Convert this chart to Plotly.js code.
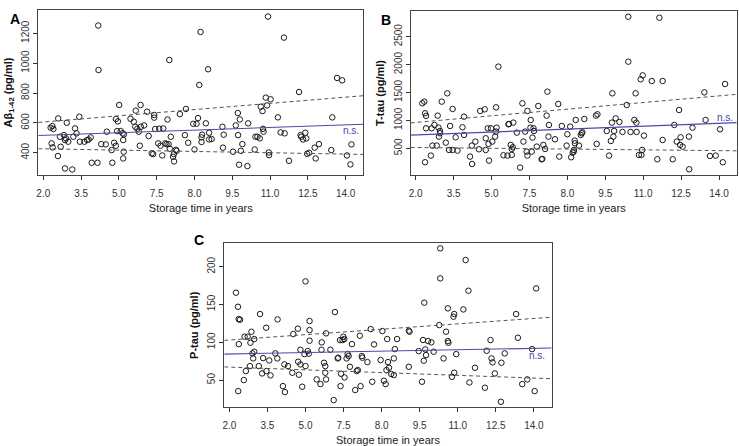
<!DOCTYPE html>
<html>
<head>
<meta charset="utf-8">
<script src="https://cdn.plot.ly/plotly-3.0.1.min.js"></script>
<style>
  html, body { margin: 0; padding: 0; background: #fff; }
  #chart { width: 739px; height: 446px; }
</style>
</head>
<body>
<div id="chart"></div>
<script>
// tick labels as printed on the figure (evenly spaced)
const xTickVals = [2, 3.5, 5, 6.5, 8, 9.5, 11, 12.5, 14];
const xTickText = ["2.0", "3.5", "5.0", "7.5", "8.0", "9.5", "11.0", "12.5", "14.0"];

// panel A: Abeta 1-42
const aX = [2.59,2.29,2.36,2.40,2.93,3.43,2.33,2.37,2.58,2.69,2.66,2.82,2.86,2.90,2.99,3.19,3.26,3.32,2.86,3.15,
  3.45,3.63,3.74,3.80,3.88,3.92,4.15,4.18,4.19,4.30,4.48,4.52,4.71,4.74,4.81,4.88,4.88,4.96,4.93,5.01,
  5.07,5.15,5.20,5.17,5.19,5.17,5.46,5.59,5.65,5.67,5.73,5.79,5.86,5.87,5.83,6.00,6.12,6.18,6.40,6.40,
  6.44,6.36,6.30,6.56,6.60,6.65,6.72,6.76,6.84,6.89,6.97,7.02,7.00,7.06,7.15,7.18,7.19,7.26,7.29,6.93,
  7.42,7.66,7.62,7.75,8.00,7.95,8.08,8.14,8.24,8.19,8.30,8.28,8.28,8.45,8.54,8.58,8.58,8.68,9.11,9.16,
  9.13,9.53,9.64,9.72,9.80,9.73,9.77,9.84,9.90,10.13,10.10,10.39,10.42,10.50,10.59,10.63,10.70,10.72,10.74,10.83,
  10.88,10.92,10.95,10.96,11.02,11.31,11.42,11.55,11.58,11.75,12.15,12.21,12.24,12.31,12.40,12.44,12.47,12.55,12.77,12.81,
  12.94,13.43,13.47,13.66,13.86,14.05,14.19,14.23];
const aY = [630,568,579,559,601,641,463,436,378,440,507,518,485,496,474,507,563,530,295,288,
  474,474,485,489,503,333,333,1252,954,458,456,541,418,333,467,447,626,610,545,720,
  545,530,523,485,407,362,628,608,574,682,561,541,720,574,447,583,675,512,653,635,
  559,391,396,463,561,447,382,563,463,458,458,427,1021,507,373,391,342,420,413,623,
  659,693,518,467,422,594,594,632,1209,854,521,503,472,597,959,534,489,492,574,521,
  434,407,583,666,623,518,320,413,458,597,311,422,507,507,496,708,679,560,541,769,
  717,1312,402,384,758,637,536,1171,530,346,807,518,507,489,534,496,393,400,434,362,
  458,418,637,901,885,382,322,456];

// panel B: T-tau
const bX = [2.26,2.34,2.37,2.41,2.41,2.37,2.60,2.63,2.66,2.74,2.83,2.87,2.90,2.92,2.96,2.96,3.03,3.19,3.25,3.32,
  3.36,3.46,3.46,3.58,3.65,3.85,3.91,3.91,4.15,4.22,4.23,4.36,4.50,4.55,4.73,4.77,4.77,4.85,4.88,4.90,
  4.98,5.03,5.14,5.18,5.18,5.20,5.27,5.47,5.63,5.67,5.69,5.76,5.80,5.80,5.84,5.86,6.00,6.13,6.22,6.26,
  6.33,6.42,6.39,6.42,6.54,6.55,6.59,6.62,6.66,6.68,6.79,6.85,6.98,7.01,7.05,7.12,7.18,7.21,7.27,7.25,
  7.51,7.64,7.68,7.78,7.97,8.00,8.11,8.15,8.21,8.25,8.26,8.29,8.33,8.30,8.46,8.53,8.57,8.59,8.67,9.13,
  9.19,9.16,9.56,9.65,9.72,9.76,9.78,9.82,9.85,9.91,10.06,10.18,10.35,10.41,10.41,10.50,10.65,10.70,10.73,10.74,
  10.83,10.90,10.93,10.96,10.98,11.03,11.34,11.56,11.64,11.77,11.77,12.17,12.23,12.33,12.42,12.46,12.48,12.56,12.81,12.82,
  12.95,13.42,13.47,13.64,13.87,14.04,14.15,14.24];
const bY = [1306,1336,1127,1080,858,250,369,858,548,918,548,1085,870,709,769,810,1336,601,1485,470,
  900,470,1204,697,458,876,1067,739,351,548,219,620,482,1169,1198,679,470,858,578,279,
  858,620,709,799,1234,870,1963,375,369,930,936,560,488,381,518,960,781,154,1306,620,
  799,1169,440,369,870,1007,440,691,858,810,530,1258,303,309,560,488,1085,1515,918,709,
  661,1294,351,900,548,751,888,339,422,440,470,637,1007,590,548,739,769,787,1025,1085,
  1109,578,810,369,631,960,1485,709,810,1037,972,793,1276,2858,2052,793,1007,1485,960,793,
  381,1736,381,470,1807,727,1706,303,2840,1706,649,303,918,620,1186,560,697,530,709,124,
  870,1502,1007,363,369,840,250,1652];

// panel C: P-tau
const cX = [2.26,2.34,2.37,2.42,2.37,2.35,2.57,2.65,2.60,2.72,2.83,2.87,2.91,2.94,2.98,2.98,2.81,3.16,3.21,3.29,
  3.33,3.45,3.46,3.57,3.62,3.81,3.89,3.90,4.11,4.19,4.17,4.31,4.48,4.52,4.70,4.74,4.71,4.80,4.87,4.80,
  4.96,5.00,5.00,5.09,5.13,5.16,5.16,5.16,5.44,5.59,5.63,5.64,5.73,5.78,5.78,5.81,5.81,5.98,6.11,6.16,
  6.27,6.29,6.36,6.38,6.40,6.46,6.49,6.53,6.54,6.66,6.62,6.70,6.75,6.83,6.96,7.02,7.06,7.17,7.14,7.22,
  7.24,7.44,7.63,7.57,7.70,7.96,8.03,8.09,8.16,8.22,8.25,8.29,8.19,8.52,8.61,8.48,8.38,8.48,9.07,9.10,
  9.07,9.46,9.63,9.66,9.72,9.75,9.83,9.96,10.05,9.59,9.68,10.27,10.31,10.31,10.44,10.54,10.61,10.63,10.61,10.77,
  10.83,10.86,10.86,10.94,11.22,11.31,11.42,11.46,11.68,12.07,12.14,12.29,12.33,12.37,12.46,12.72,12.70,12.85,13.30,13.37,
  13.54,13.74,13.93,14.03,14.09];
const cY = [165.6,147,130.7,129.9,97.6,35.4,50,61.9,107.4,107.4,99.4,114,85.3,78.7,104.3,87.5,68.5,68.5,137.4,58.8,
  79.1,119.3,61.9,76,56.2,85.3,78.7,130.3,42,34.1,70.7,68.5,59.7,110.9,118,57.1,74.3,70.7,41.2,90.1,
  84.4,68.5,180.6,88.4,84.9,102.1,116.2,128.1,50.9,44.7,90.1,99.9,72.9,68.5,59.7,50.9,111.8,90.1,23.5,140,
  78.7,79.6,102.9,42,58.4,102.9,107.4,104.3,53.5,84.4,78.7,81.8,67.6,97.6,36.8,61.9,63.2,42,108.7,81.8,
  79.6,73.8,47.8,117.5,97.2,76.5,114.9,49.1,44.7,104.3,73.8,66.3,63.2,91,104.3,78.7,58,56.6,115.3,114,
  67.6,88.4,103,75.6,90.6,83.1,101.6,99.9,87.5,47.8,152.4,122.8,184.6,224.3,78.7,114,101.6,99.4,144.9,54.4,
  133.8,137.4,59.7,84.4,143.5,208.8,168.2,46.9,66.3,39.9,88.8,102.9,78.7,73.4,58.8,72.9,21.3,85.3,137.4,106,
  44.7,50.9,91,35.4,171.3];

// fitted line and dashed bounds, read at the plot edges
const lineX = [1.8, 14.7];
const aFit = [516, 591];
const aUpper = [603, 782];
const aLower = [427, 389];
const bFit = [735, 960];
const bUpper = [955, 1467];
const bLower = [515, 455];
const cFit = [84.4, 92.4];
const cUpper = [102.5, 133.2];
const cLower = [67.4, 51.8];

const nsA = [14.2, 548];
const nsB = [14.22, 1050];
const nsC = [14.12, 82];

const panels = [
  { xs: aX, ys: aY, fit: aFit, up: aUpper, lo: aLower, ns: nsA, ax: "" },
  { xs: bX, ys: bY, fit: bFit, up: bUpper, lo: bLower, ns: nsB, ax: "2" },
  { xs: cX, ys: cY, fit: cFit, up: cUpper, lo: cLower, ns: nsC, ax: "3" }
];

const traces = [];
const annotations = [];

panels.forEach(p => {
  const xa = "x" + p.ax;
  const ya = "y" + p.ax;

  traces.push({
    x: p.xs, y: p.ys,
    xaxis: xa, yaxis: ya,
    type: "scatter", mode: "markers",
    marker: { symbol: "circle-open", size: 5.5, color: "#1a1a1a", line: { width: 1 } },
    hoverinfo: "skip"
  });

  [p.up, p.lo].forEach(b => {
    traces.push({
      x: lineX, y: b,
      xaxis: xa, yaxis: ya,
      type: "scatter", mode: "lines",
      line: { color: "#555", width: 1, dash: "4px,3px" },
      hoverinfo: "skip"
    });
  });

  traces.push({
    x: lineX, y: p.fit,
    xaxis: xa, yaxis: ya,
    type: "scatter", mode: "lines",
    line: { color: "#4a4aa6", width: 1.1 },
    hoverinfo: "skip"
  });

  annotations.push({
    x: p.ns[0], y: p.ns[1], xref: xa, yref: ya,
    text: "n.s.", showarrow: false,
    font: { family: "Liberation Sans, Arial", size: 10, color: "#4545a8" }
  });
});

const letters = [["A", 0.011, 0.979], ["B", 0.522, 0.977], ["C", 0.26, 0.462]];
letters.forEach(l => {
  annotations.push({
    x: l[1], y: l[2], xref: "paper", yref: "paper",
    text: "<b>" + l[0] + "</b>", showarrow: false,
    font: { family: "Liberation Sans, Arial", size: 14, color: "#000" }
  });
});

function xAxis(domain, anchor) {
  return {
    domain, anchor,
    range: [1.8, 14.7],
    tickvals: xTickVals, ticktext: xTickText,
    ticks: "outside", ticklen: 4, tickcolor: "#333",
    ticklabelstandoff: 5,
    showline: true, mirror: true, linecolor: "#444", linewidth: 1,
    showgrid: false, zeroline: false,
    tickfont: { family: "Liberation Sans, Arial", size: 10, color: "#333" },
    title: { text: "Storage time in years", standoff: 6,
             font: { family: "Liberation Sans, Arial", size: 11, color: "#222" } }
  };
}

function yAxis(domain, anchor, range, tickvals, label) {
  return {
    domain, anchor, range, tickvals,
    ticks: "outside", ticklen: 4, tickcolor: "#333",
    tickangle: -90,
    showline: true, mirror: true, linecolor: "#444", linewidth: 1,
    showgrid: false, zeroline: false,
    tickfont: { family: "Liberation Sans, Arial", size: 10, color: "#333" },
    title: { text: label, standoff: 5,
             font: { family: "Liberation Sans, Arial", size: 11, color: "#111" } }
  };
}

const layout = {
  width: 739, height: 446,
  margin: { l: 0, r: 0, t: 0, b: 0 },
  paper_bgcolor: "#fff", plot_bgcolor: "#fff",
  showlegend: false,
  xaxis: xAxis([0.0518, 0.4916], "y"),
  yaxis: yAxis([0.6076, 0.9776], "x", [251, 1356], [400, 600, 800, 1000, 1200],
               "<b>Aβ<sub>1-42</sub> (pg/ml)</b>"),
  xaxis2: xAxis([0.5557, 0.9969], "y2"),
  yaxis2: yAxis([0.6076, 0.9753], "x2", [21, 2960], [500, 1000, 1500, 2000, 2500],
                "<b>T-tau (pg/ml)</b>"),
  xaxis3: xAxis([0.3035, 0.7465], "y3"),
  yaxis3: yAxis([0.0868, 0.4545], "x3", [14, 231], [50, 100, 150, 200],
                "<b>P-tau (pg/ml)</b>"),
  annotations
};

Plotly.newPlot("chart", traces, layout, { staticPlot: true, displayModeBar: false });
</script>
</body>
</html>
